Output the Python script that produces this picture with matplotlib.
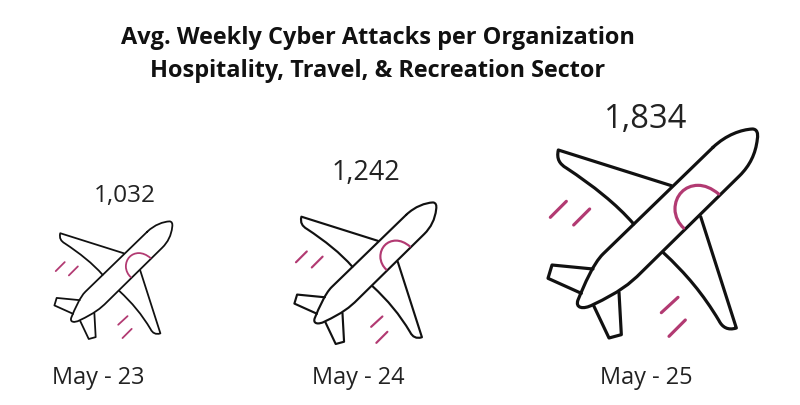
import matplotlib
matplotlib.use("Agg")
import matplotlib.pyplot as plt
from matplotlib.path import Path
from matplotlib.patches import PathPatch
from matplotlib.transforms import Affine2D

# --- data ---
title_lines = ["Avg. Weekly Cyber Attacks per Organization",
               "Hospitality, Travel, & Recreation Sector"]
periods = ["May - 23", "May - 24", "May - 25"]
attacks = [1032, 1242, 1834]

# --- layout (pixels of the 800x405 canvas) ---
centers_x = [113.5, 365.5, 653]
bottoms_y = [339, 344, 338]
value_x = [125, 366, 646]
value_y = [196, 173, 119]
value_size = [17.6, 19.4, 23.6]
period_x = [98.5, 358.5, 646]
period_y = 378
PX_PER_ATTACK = 210 / 1834
INK = "#111111"
ACCENT = "#B23A72"

# --- plane icon, drawn in a 630-unit template box ---
M, L, C = Path.MOVETO, Path.LINETO, Path.CURVE4

def build(segs):
    v, c = [], []
    for kind, pts in segs:
        v += pts
        c += [kind] * len(pts)
    return Path(v, c)

fuselage = build([
    (M, [(550, 110)]),
    (C, [(590, 72), (635, 57), (668, 55)]),
    (C, [(682, 55), (686, 68), (683, 85)]),
    (C, [(678, 130), (660, 165), (630, 195)]),
    (L, [(335, 485)]),
    (C, [(300, 520), (268, 545), (190, 582)]),
    (C, [(160, 598), (136, 592), (145, 568)]),
    (C, [(165, 520), (190, 460), (220, 430)]),
    (L, [(550, 110)]),
])
wing_up = build([
    (M, [(425, 225)]), (L, [(86, 118)]),
    (C, [(80, 145), (90, 160), (110, 172)]),
    (C, [(190, 225), (260, 280), (312, 340)]),
])
wing_down = build([
    (M, [(513, 318)]), (L, [(620, 652)]),
    (C, [(595, 660), (578, 650), (568, 630)]),
    (C, [(520, 550), (470, 490), (400, 425)]),
])
tail_up = build([(M, [(190, 475)]), (L, [(67, 463)]), (L, [(55, 503)]), (L, [(155, 548)])])
tail_down = build([(M, [(192, 585)]), (L, [(238, 682)]), (L, [(275, 672)]), (L, [(268, 545)])])
window = build([
    (M, [(567, 250)]),
    (C, [(545, 232), (525, 224), (505, 224)]),
    (C, [(465, 224), (436, 255), (436, 295)]),
    (C, [(436, 318), (448, 340), (462, 352)]),
])
streaks = [build([(M, [a]), (L, [b])]) for a, b in [
    ((62, 320), (110, 272)), ((132, 343), (180, 295)),
    ((395, 606), (445, 560)), ((418, 677), (467, 628))]]
TPL_CX, TPL_BOTTOM, TPL_SPAN = 370, 682, 630

fig = plt.figure(figsize=(8.0, 4.05), dpi=100, facecolor="white")
ax = fig.add_axes([0, 0, 1, 1])
ax.set_xlim(0, 800)
ax.set_ylim(405, 0)
ax.axis("off")

FONT = "Open Sans"
for line, y in zip(title_lines, [38, 71]):
    ax.text(378, y, line, ha="center", va="center", family=FONT,
            fontweight="bold", fontsize=16.9, color="#111111")

for val, per, cx, by, vx, vy, vs, px in zip(attacks, periods, centers_x, bottoms_y,
                                            value_x, value_y, value_size, period_x):
    s = val * PX_PER_ATTACK / TPL_SPAN
    tr = (Affine2D().translate(-TPL_CX, -TPL_BOTTOM).scale(s).translate(cx, by)
          + ax.transData)
    lw = 9.5 * s * 0.72
    for p in [wing_up, wing_down, tail_up, tail_down, fuselage]:
        ax.add_patch(PathPatch(p, transform=tr, fill=False, ec=INK, lw=lw,
                               capstyle="round", joinstyle="round"))
    ax.add_patch(PathPatch(window, transform=tr, fill=False, ec=ACCENT, lw=lw,
                           capstyle="round"))
    for p in streaks:
        ax.add_patch(PathPatch(p, transform=tr, fill=False, ec=ACCENT, lw=lw,
                               capstyle="round"))
    ax.text(vx, vy, f"{val:,}", ha="center", va="center", family=FONT,
            fontsize=vs, color="#222222")
    ax.text(px, period_y, per, ha="center", va="center", family=FONT,
            fontsize=16.9, color="#222222")

fig.savefig("out.png", dpi=100)
